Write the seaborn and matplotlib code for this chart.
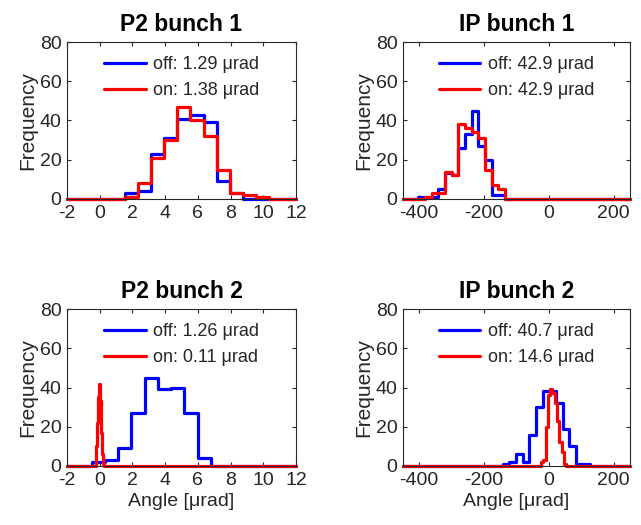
import matplotlib
matplotlib.use("Agg")
import matplotlib.pyplot as plt
import pandas as pd
import seaborn as sns

# ---- data (bin edges + counts per histogram) ----
titles = ["P2 bunch 1", "IP bunch 1", "P2 bunch 2", "IP bunch 2"]

p2b1_off_edges = [1.55, 2.35, 3.15, 3.95, 4.75, 5.55, 6.35, 7.15, 7.95, 8.75, 9.55, 10.35]
p2b1_off_counts = [3, 4, 23, 31, 41, 43, 39, 9, 3, 0, 0]
p2b1_on_edges = [1.55, 2.35, 3.15, 3.95, 4.75, 5.55, 6.35, 7.15, 7.95, 8.75, 9.55, 10.35]
p2b1_on_counts = [1, 8, 21, 30, 47, 40, 32, 15, 3, 2, 1]

ipb1_off_edges = [-403, -382.4, -361.8, -341.2, -320.6, -300, -279.4, -258.8,
                  -238.2, -217.6, -197, -176.4, -155.8, -135.2, -114.6]
ipb1_off_counts = [1, 1, 1, 5, 13, 12, 26, 33, 45, 27, 20, 2, 2, 0]
ipb1_on_edges = ipb1_off_edges
ipb1_on_counts = [0, 1, 3, 3, 14, 12, 38, 36, 34, 31, 15, 7, 5, 0]

p2b2_off_edges = [-0.49, 0.32, 1.13, 1.94, 2.75, 3.56, 4.37, 5.18, 5.99, 6.80]
p2b2_off_counts = [2, 3, 9, 27, 45, 39, 40, 27, 4]
p2b2_on_edges = [-0.25, -0.2, -0.15, -0.1, -0.05, 0.0, 0.05, 0.1, 0.15, 0.2, 0.25]
p2b2_on_counts = [3, 10, 22, 35, 42, 31, 33, 17, 6, 1]

ipb2_off_edges = [-142.6, -122, -101.4, -80.8, -60.2, -39.6, -19, 1.6,
                  22.2, 42.8, 63.4, 84, 104.6, 125.2]
ipb2_off_counts = [1, 2, 6, 2, 16, 30, 38, 38, 32, 19, 10, 1, 1]
ipb2_on_edges = [-24, -17, -10, -3, 4, 11, 18, 25, 32, 39, 46, 53]
ipb2_on_counts = [2, 3, 20, 36, 39, 37, 32, 23, 12, 7, 1]

off_labels = ["off: 1.29 μrad", "off: 42.9 μrad", "off: 1.26 μrad", "off: 40.7 μrad"]
on_labels = ["on: 1.38 μrad", "on: 42.9 μrad", "on: 0.11 μrad", "on: 14.6 μrad"]

p2_xticks = [-2, 0, 2, 4, 6, 8, 10, 12]
ip_xticks = [-400, -200, 0, 200]
yticks = [0, 20, 40, 60, 80]

sns.set_style("ticks")
plt.rcParams.update({
    "font.family": ["Liberation Sans", "DejaVu Sans"],
    "axes.unicode_minus": False,
    "font.size": 14,
})

INK = "#262626"


def draw_hist(ax, edges, counts, xlim, color, label):
    # stairs that run along zero out to the axis limits, MATLAB-style
    x = [xlim[0]] + list(edges) + [xlim[1]]
    y = [0] + list(counts) + [0, 0]
    df = pd.DataFrame({"x": x, "y": y})
    sns.lineplot(data=df, x="x", y="y", ax=ax, color=color, lw=2.3,
                 drawstyle="steps-post", estimator=None, sort=False,
                 label=label, clip_on=False)


fig = plt.figure(figsize=(6.41, 5.25), dpi=100)
boxes = [
    [0.1045, 0.621, 0.3573, 0.299],
    [0.6287, 0.621, 0.3541, 0.299],
    [0.1045, 0.1124, 0.3573, 0.299],
    [0.6287, 0.1124, 0.3541, 0.299],
]
panels = [
    (p2b1_off_edges, p2b1_off_counts, p2b1_on_edges, p2b1_on_counts, (-2, 12), p2_xticks),
    (ipb1_off_edges, ipb1_off_counts, ipb1_on_edges, ipb1_on_counts, (-450, 250), ip_xticks),
    (p2b2_off_edges, p2b2_off_counts, p2b2_on_edges, p2b2_on_counts, (-2, 12), p2_xticks),
    (ipb2_off_edges, ipb2_off_counts, ipb2_on_edges, ipb2_on_counts, (-450, 250), ip_xticks),
]

for i, (box, (oe, oc, ne, nc, xlim, xt)) in enumerate(zip(boxes, panels)):
    ax = fig.add_axes(box)
    draw_hist(ax, oe, oc, xlim, "#0000ff", off_labels[i])
    draw_hist(ax, ne, nc, xlim, "#ff0000", on_labels[i])
    ax.set_xlim(*xlim)
    ax.set_ylim(0, 80)
    ax.set_xticks(xt)
    ax.set_yticks(yticks)
    ax.set_title(titles[i], fontsize=16.5, fontweight="bold", color="black", pad=8)
    ax.set_ylabel("Frequency", fontsize=15, color=INK, labelpad=2)
    ax.set_xlabel("Angle [μrad]" if i >= 2 else "", fontsize=14, color=INK, labelpad=3)
    for sp in ax.spines.values():
        sp.set_visible(True)
        sp.set_color(INK)
        sp.set_linewidth(0.8)
    ax.tick_params(direction="in", top=True, right=True, length=3, width=0.8,
                   color=INK, labelcolor=INK, labelsize=14, pad=4)
    ax.legend(loc="upper center", frameon=False, fontsize=13, handlelength=2.3,
              handletextpad=0.4, labelspacing=0.5, borderaxespad=0.4)

fig.savefig("out.png", dpi=100)
